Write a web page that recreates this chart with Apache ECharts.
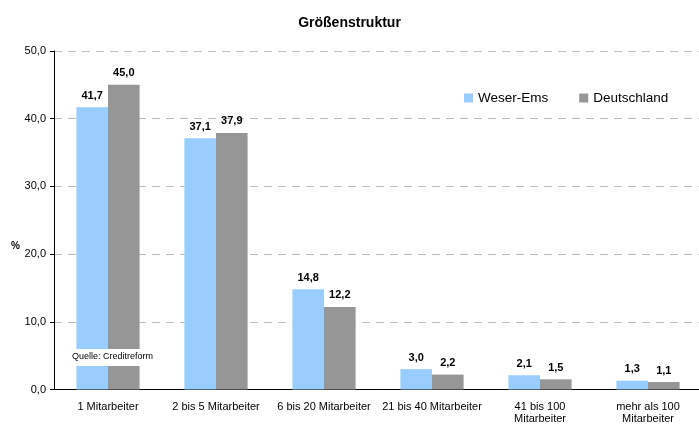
<!DOCTYPE html>
<html>
<head>
<meta charset="utf-8">
<script src="https://cdn.jsdelivr.net/npm/echarts@6/dist/echarts.min.js"></script>
<style>
  html, body { margin: 0; padding: 0; background: #fff; }
  #chart { width: 699px; height: 426px; }
</style>
</head>
<body>
<div id="chart"></div>
<script>
const categories = ['1 Mitarbeiter', '2 bis 5 Mitarbeiter', '6 bis 20 Mitarbeiter', '21 bis 40 Mitarbeiter', '41 bis 100\nMitarbeiter', 'mehr als 100\nMitarbeiter'];
const weserEms = [41.7, 37.1, 14.8, 3.0, 2.1, 1.3];
const deutschland = [45.0, 37.9, 12.2, 2.2, 1.5, 1.1];

const fmt = v => v.toFixed(1).replace('.', ',');
const font = 'Liberation Sans, Arial, sans-serif';

let myChart = echarts.init(document.getElementById('chart'));
let option = {
  animation: false,
  textStyle: { fontFamily: font },
  title: {
    text: 'Größenstruktur',
    left: 'center',
    top: 11,
    textStyle: { fontSize: 14, fontWeight: 'bold', color: '#000', fontFamily: font }
  },
  legend: {
    left: 459,
    top: 86,
    itemWidth: 9,
    itemHeight: 9,
    itemGap: 31,
    icon: 'rect',
    textStyle: { fontSize: 13.5, color: '#000', fontFamily: font }
  },
  grid: { left: 54, width: 648, top: 51, bottom: 36.5, outerBoundsMode: 'none', containLabel: false },
  xAxis: {
    type: 'category',
    data: categories,
    axisLine: { lineStyle: { color: '#000' } },
    axisTick: { length: 4, lineStyle: { color: '#000' } },
    axisLabel: { interval: 0, fontSize: 11, color: '#000', margin: 11, lineHeight: 12, fontFamily: font }
  },
  yAxis: {
    type: 'value',
    min: 0,
    max: 50,
    interval: 10,
    axisLine: { show: true, lineStyle: { color: '#000' } },
    axisTick: { show: true, length: 4, lineStyle: { color: '#000' } },
    axisLabel: { fontSize: 11, color: '#000', margin: 8, formatter: v => fmt(v), fontFamily: font },
    splitLine: { lineStyle: { color: '#bdbdbd', type: [8, 6], width: 1 } }
  },
  series: [
    {
      name: 'Weser-Ems',
      type: 'bar',
      data: weserEms,
      barGap: '0%',
      barCategoryGap: '41.5%',
      itemStyle: { color: '#99ccff' },
      label: { show: true, position: 'top', distance: 6, fontSize: 11, fontWeight: 'bold', color: '#000', formatter: p => fmt(p.value) }
    },
    {
      name: 'Deutschland',
      type: 'bar',
      data: deutschland,
      itemStyle: { color: '#969696' },
      label: { show: true, position: 'top', distance: 6, fontSize: 11, fontWeight: 'bold', color: '#000', formatter: p => fmt(p.value) }
    }
  ],
  graphic: [
    {
      type: 'text',
      left: 11,
      top: 241,
      style: { text: '%', fontSize: 10, fontWeight: 'bold', fill: '#000', fontFamily: font }
    },
    {
      type: 'rect',
      left: 70,
      top: 349,
      z: 100,
      shape: { width: 88, height: 17 },
      style: { fill: '#fff' }
    },
    {
      type: 'text',
      left: 72,
      top: 352,
      z: 101,
      style: { text: 'Quelle: Creditreform', fontSize: 9, fill: '#000', fontFamily: font }
    }
  ]
};
option && myChart.setOption(option);
</script>
</body>
</html>
